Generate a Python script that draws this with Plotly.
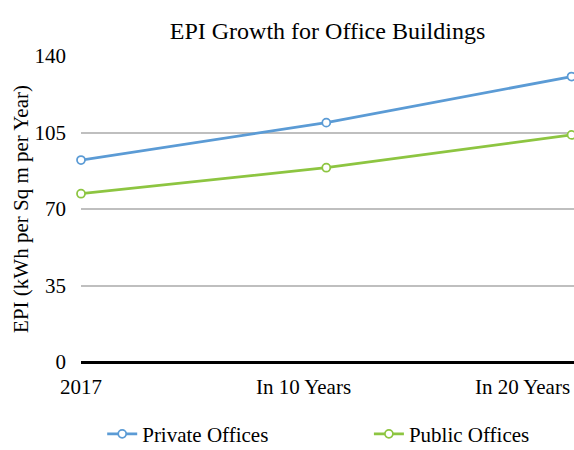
"""
EPI growth line chart for office buildings
"""
import plotly.graph_objects as go

# Datos
CATEGORIES = ['2017', 'In 10 Years', 'In 20 Years']
PRIVATE_OFFICES = [92.4, 109.5, 130.6]
PUBLIC_OFFICES = [77.0, 88.9, 103.9]
Y_TICKS = [0, 35, 70, 105, 140]

COLORS = {
    'private': '#5B9BD5',
    'public': '#8DC541',
    'grid': '#BFBFBF',
    'text': '#000000',
}
FONT = 'Liberation Serif'
FONT_SIZE = 21

x_pos = list(range(len(CATEGORIES)))

fig = go.Figure()

fig.add_trace(go.Scatter(
    x=x_pos,
    y=PRIVATE_OFFICES,
    mode='lines+markers',
    name='Private Offices',
    line=dict(color=COLORS['private'], width=2.75),
    marker=dict(size=8, color='white', line=dict(color=COLORS['private'], width=1.75)),
    cliponaxis=False,
    legend='legend',
))

fig.add_trace(go.Scatter(
    x=x_pos,
    y=PUBLIC_OFFICES,
    mode='lines+markers',
    name='Public Offices',
    line=dict(color=COLORS['public'], width=2.75),
    marker=dict(size=8, color='white', line=dict(color=COLORS['public'], width=1.75)),
    cliponaxis=False,
    legend='legend2',
))

# etiquetas del eje x (Excel las desplaza para que quepan)
label_shift = [0, -23, 0]
label_anchor = ['center', 'center', 'right']
for i, cat in enumerate(CATEGORIES):
    fig.add_annotation(
        x=x_pos[i], y=0, xref='x', yref='paper',
        text=cat, showarrow=False,
        xanchor=label_anchor[i], yanchor='middle',
        xshift=label_shift[i],
        yshift=-25,
        font=dict(family=FONT, size=FONT_SIZE, color=COLORS['text']),
    )

legend_style = dict(
    orientation='h',
    xanchor='left',
    y=-0.236, yanchor='middle',
    font=dict(family=FONT, size=FONT_SIZE, color=COLORS['text']),
    bgcolor='rgba(0,0,0,0)',
)

fig.update_layout(
    width=574,
    height=450,
    margin=dict(l=81, r=0, t=56, b=88, autoexpand=False),
    paper_bgcolor='white',
    plot_bgcolor='white',
    font=dict(family=FONT, size=FONT_SIZE, color=COLORS['text']),
    title=dict(
        text='EPI Growth for Office Buildings',
        x=0.5, xref='paper', xanchor='center',
        y=0.931, yanchor='middle',
        font=dict(family=FONT, size=24, color=COLORS['text']),
    ),
    xaxis=dict(
        range=[0, 2.01],
        showgrid=False,
        zeroline=False,
        showticklabels=False,
        showline=False,
        fixedrange=True,
    ),
    yaxis=dict(
        range=[0, 140],
        tickvals=Y_TICKS,
        showgrid=True,
        gridcolor=COLORS['grid'],
        gridwidth=2,
        zeroline=True,
        zerolinecolor='black',
        zerolinewidth=2.5,
        showline=False,
        ticks='',
        ticklabelstandoff=14,
        tickfont=dict(family=FONT, size=FONT_SIZE, color=COLORS['text']),
        title=dict(
            text='EPI (kWh per Sq m per Year)',
            font=dict(family=FONT, size=FONT_SIZE, color=COLORS['text']),
            standoff=0,
        ),
    ),
    showlegend=True,
    legend=dict(x=0.043, **legend_style),
    legend2=dict(x=0.584, **legend_style),
)

fig.write_html(
    "out.html",
    config={'displayModeBar': False},
    post_script="document.body.style.margin='0';",
)
